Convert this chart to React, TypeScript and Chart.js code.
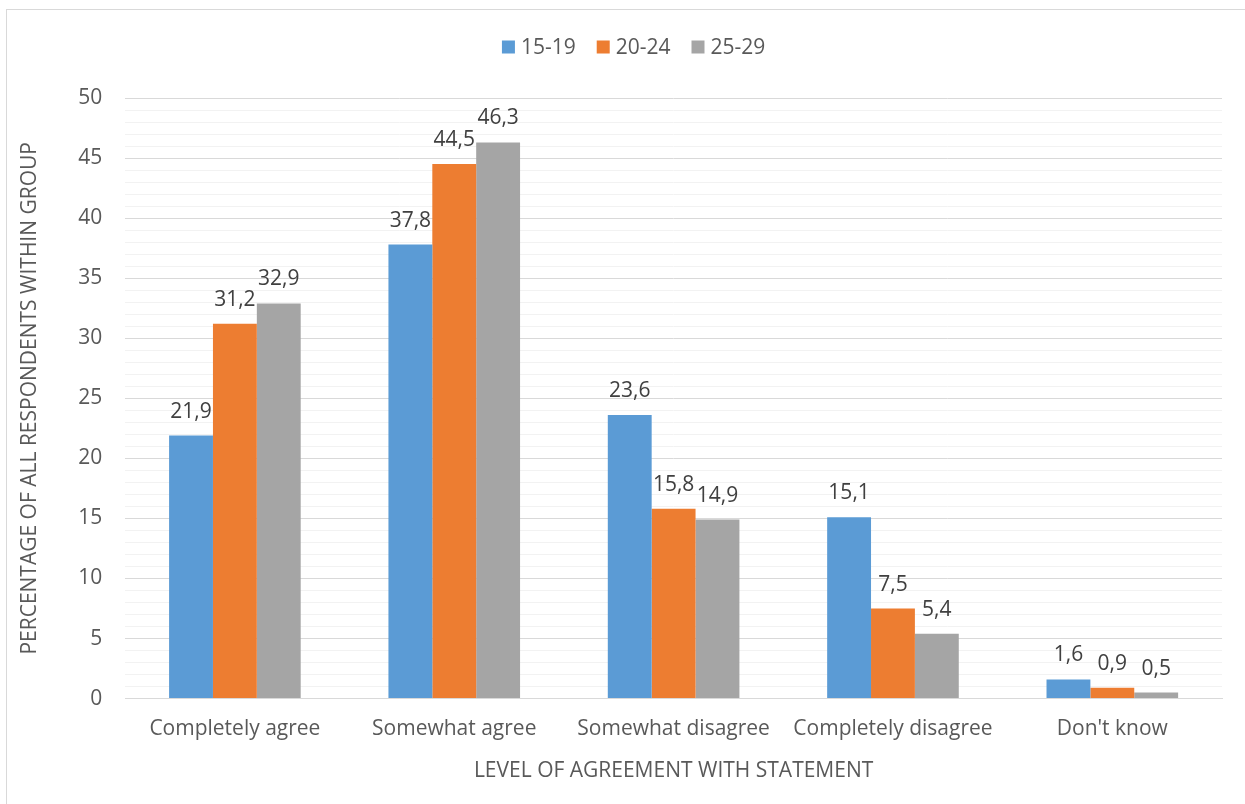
import React, { useEffect, useRef } from "react";
import { Chart, registerables } from "chart.js";

Chart.register(...registerables);

const categories = [
  "Completely agree",
  "Somewhat agree",
  "Somewhat disagree",
  "Completely disagree",
  "Don't know",
];
const seriesNames = ["15-19", "20-24", "25-29"];
const values1519 = [21.9, 37.8, 23.6, 15.1, 1.6];
const values2024 = [31.2, 44.5, 15.8, 7.5, 0.9];
const values2529 = [32.9, 46.3, 14.9, 5.4, 0.5];
const seriesColors = ["#5B9BD5", "#ED7D31", "#A5A5A5"];

const FONT = "'Open Sans', 'Noto Sans', sans-serif";
const TEXT = "#595959";
const SIZE = 21;

// Value labels drawn above each bar, using a decimal comma
const valueLabels = {
  id: "valueLabels",
  afterDatasetsDraw(chart: any) {
    const ctx = chart.ctx;
    ctx.save();
    ctx.font = `${SIZE}px ${FONT}`;
    ctx.fillStyle = "#404040";
    ctx.textAlign = "center";
    ctx.textBaseline = "alphabetic";
    chart.data.datasets.forEach((ds: any, i: number) => {
      const meta = chart.getDatasetMeta(i);
      meta.data.forEach((bar: any, j: number) => {
        const v = ds.data[j] as number;
        ctx.fillText(v.toFixed(1).replace(".", ","), bar.x, bar.y - 18);
      });
    });
    ctx.restore();
  },
};

// Compact legend row centred above the plot: square swatch, then the series name
const topLegend = {
  id: "topLegend",
  afterDraw(chart: any) {
    const ctx = chart.ctx;
    const box = 13;
    const textGap = 6;
    const itemGap = 21;
    ctx.save();
    ctx.font = `${SIZE}px ${FONT}`;
    ctx.textBaseline = "middle";
    ctx.textAlign = "left";
    const items = chart.data.datasets.map((ds: any) => ({
      label: ds.label as string,
      color: ds.backgroundColor as string,
      w: ctx.measureText(ds.label).width,
    }));
    const total =
      items.reduce((s: number, it: any) => s + box + textGap + it.w, 0) +
      itemGap * (items.length - 1);
    const cx = (chart.chartArea.left + chart.chartArea.right) / 2 - 40;
    const cy = 37;
    let x = cx - total / 2;
    items.forEach((it: any) => {
      ctx.fillStyle = it.color;
      ctx.fillRect(x, cy - box / 2, box, box);
      x += box + textGap;
      ctx.fillStyle = TEXT;
      ctx.fillText(it.label, x, cy + 1);
      x += it.w + itemGap;
    });
    ctx.restore();
  },
};

export default function App() {
  const canvasRef = useRef<HTMLCanvasElement | null>(null);

  useEffect(() => {
    if (!canvasRef.current) return;
    const data = [values1519, values2024, values2529];
    const chart = new Chart(canvasRef.current, {
      type: "bar",
      data: {
        labels: categories,
        datasets: seriesNames.map((name, i) => ({
          label: name,
          data: data[i],
          backgroundColor: seriesColors[i],
          borderWidth: 0,
          barPercentage: 1,
          categoryPercentage: 0.6,
        })),
      },
      options: {
        animation: false,
        responsive: true,
        maintainAspectRatio: false,
        layout: { padding: { top: 88, right: 25, bottom: 16, left: 10 } },
        plugins: {
          tooltip: { enabled: false },
          legend: { display: false },
        },
        scales: {
          x: {
            grid: { display: false },
            border: { color: "#d9d9d9", width: 1 },
            ticks: {
              font: { family: FONT, size: SIZE },
              color: TEXT,
              padding: 10,
              maxRotation: 0,
            },
            title: {
              display: true,
              text: "LEVEL OF AGREEMENT WITH STATEMENT",
              font: { family: FONT, size: SIZE },
              color: TEXT,
              padding: { top: 7, bottom: 0 },
            },
          },
          y: {
            min: 0,
            max: 50,
            border: { display: false },
            grid: {
              drawTicks: false,
              color: (c: any) => (c.tick && c.tick.value % 5 === 0 ? "#d9d9d9" : "#f2f2f2"),
              lineWidth: 1,
            },
            ticks: {
              stepSize: 1,
              autoSkip: false,
              font: { family: FONT, size: SIZE },
              color: TEXT,
              padding: 23,
              callback: (v: any) => (Number(v) % 5 === 0 ? String(v) : ""),
            },
            title: {
              display: true,
              text: "PERCENTAGE OF ALL RESPONDENTS WITHIN GROUP",
              font: { family: FONT, size: SIZE },
              color: TEXT,
              padding: { top: 0, bottom: 13 },
            },
          },
        },
      },
      plugins: [valueLabels, topLegend],
    });
    return () => chart.destroy();
  }, []);

  return (
    <div
      style={{
        position: "absolute",
        left: 6,
        top: 9,
        width: 1260,
        height: 810,
        border: "1.5px solid #d9d9d9",
        background: "#fff",
        boxSizing: "border-box",
      }}
    >
      <div style={{ position: "absolute", left: 0, top: 0, width: 1240, height: 790 }}>
        <canvas ref={canvasRef} />
      </div>
    </div>
  );
}
